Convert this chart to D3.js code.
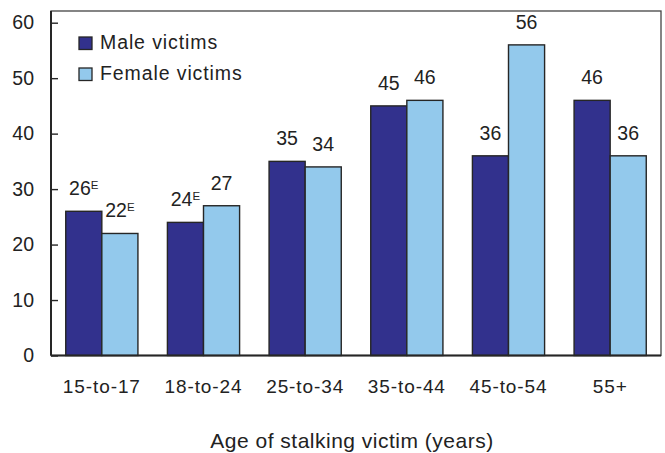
<!DOCTYPE html>
<html>
<head>
<meta charset="utf-8">
<script src="https://cdn.jsdelivr.net/npm/d3@7"></script>
<style>
  html, body { margin: 0; padding: 0; background: #fff; }
  svg { display: block; font-family: "Liberation Sans", Arial, Helvetica, sans-serif; }
</style>
</head>
<body>
<svg id="chart" width="665" height="453"></svg>
<script>
// ---- data ----
const categories = ["15-to-17", "18-to-24", "25-to-34", "35-to-44", "45-to-54", "55+"];
const maleVictims = [26, 24, 35, 45, 36, 46];
const femaleVictims = [22, 27, 34, 46, 56, 36];
const maleFlags = ["E", "E", "", "", "", ""];
const femaleFlags = ["E", "", "", "", "", ""];
const seriesNames = ["Male victims", "Female victims"];
const yTicks = [0, 10, 20, 30, 40, 50, 60];
const xTitle = "Age of stalking victim (years)";

// ---- layout ----
const W = 665, H = 453;
const plot = { left: 51, right: 661, top: 11, bottom: 355.5 };
const colors = ["#32318d", "#93c9ec"];
const stroke = "#262626";

const svg = d3.select("#chart");

const x0 = d3.scaleBand().domain(categories).range([plot.left, plot.right]).paddingInner(0.29).paddingOuter(0.145);
const x1 = d3.scaleBand().domain([0, 1]).range([0, x0.bandwidth()]);
const y = d3.scaleLinear().domain([0, 60]).range([plot.bottom, 22.7]);

// frame
svg.append("rect")
  .attr("x", plot.left).attr("y", plot.top)
  .attr("width", plot.right - plot.left).attr("height", plot.bottom - plot.top)
  .attr("fill", "none").attr("stroke", "#444").attr("stroke-width", 1.3);

const series = [
  { vals: maleVictims, flags: maleFlags },
  { vals: femaleVictims, flags: femaleFlags }
];

// bars
series.forEach((s, si) => {
  svg.append("g").selectAll("rect")
    .data(categories)
    .join("rect")
    .attr("x", (c) => x0(c) + x1(si))
    .attr("y", (c, i) => y(s.vals[i]))
    .attr("width", x1.bandwidth())
    .attr("height", (c, i) => y(0) - y(s.vals[i]))
    .attr("fill", colors[si])
    .attr("stroke", stroke)
    .attr("stroke-width", 1.4);
});

// y axis
const yAxis = d3.axisLeft(y).tickValues(yTicks).tickSize(-7).tickPadding(17);
const gy = svg.append("g").attr("transform", `translate(${plot.left},0)`).call(yAxis);
gy.select(".domain").remove();
gy.selectAll(".tick line").attr("stroke", stroke).attr("stroke-width", 1.4);
gy.selectAll(".tick text").attr("font-size", 19.5).attr("fill", "#222")
  .attr("font-family", "Liberation Sans, Arial, sans-serif");

// axis lines
svg.append("line").attr("x1", plot.left).attr("x2", plot.left).attr("y1", plot.top).attr("y2", plot.bottom)
  .attr("stroke", stroke).attr("stroke-width", 2);
svg.append("line").attr("x1", plot.left).attr("x2", plot.right).attr("y1", plot.bottom).attr("y2", plot.bottom)
  .attr("stroke", stroke).attr("stroke-width", 2);

// x axis labels
const xAxis = d3.axisBottom(x0).tickSize(0).tickPadding(24);
const gx = svg.append("g").attr("transform", `translate(0,${plot.bottom})`).call(xAxis);
gx.select(".domain").remove();
gx.selectAll(".tick text").attr("font-size", 19).attr("fill", "#222")
  .attr("letter-spacing", 0.9)
  .attr("font-family", "Liberation Sans, Arial, sans-serif");

// value labels
series.forEach((s, si) => {
  const t = svg.append("g").selectAll("text")
    .data(categories)
    .join("text")
    .attr("x", (c) => x0(c) + x1(si) + x1.bandwidth() / 2)
    .attr("y", (c, i) => y(s.vals[i]) - 16)
    .attr("text-anchor", "middle")
    .attr("font-size", 19.5)
    .attr("fill", "#222");
  t.append("tspan").text((c, i) => s.vals[i]);
  t.append("tspan")
    .attr("font-size", 11.5)
    .attr("dy", -6.5)
    .text((c, i) => s.flags[i]);
});

// legend
const lg = svg.append("g");
seriesNames.forEach((n, i) => {
  lg.append("rect").attr("x", 79).attr("y", 37 + i * 31).attr("width", 13).attr("height", 12.5)
    .attr("fill", colors[i]).attr("stroke", stroke).attr("stroke-width", 1.3);
  lg.append("text").attr("x", 100).attr("y", 48.5 + i * 31).attr("font-size", 19.5)
    .attr("letter-spacing", 0.9).attr("fill", "#222").text(n);
});

// x title
svg.append("text").attr("x", 352).attr("y", 448).attr("text-anchor", "middle")
  .attr("font-size", 21).attr("letter-spacing", 0.5).attr("fill", "#222").text(xTitle);
</script>
</body>
</html>
